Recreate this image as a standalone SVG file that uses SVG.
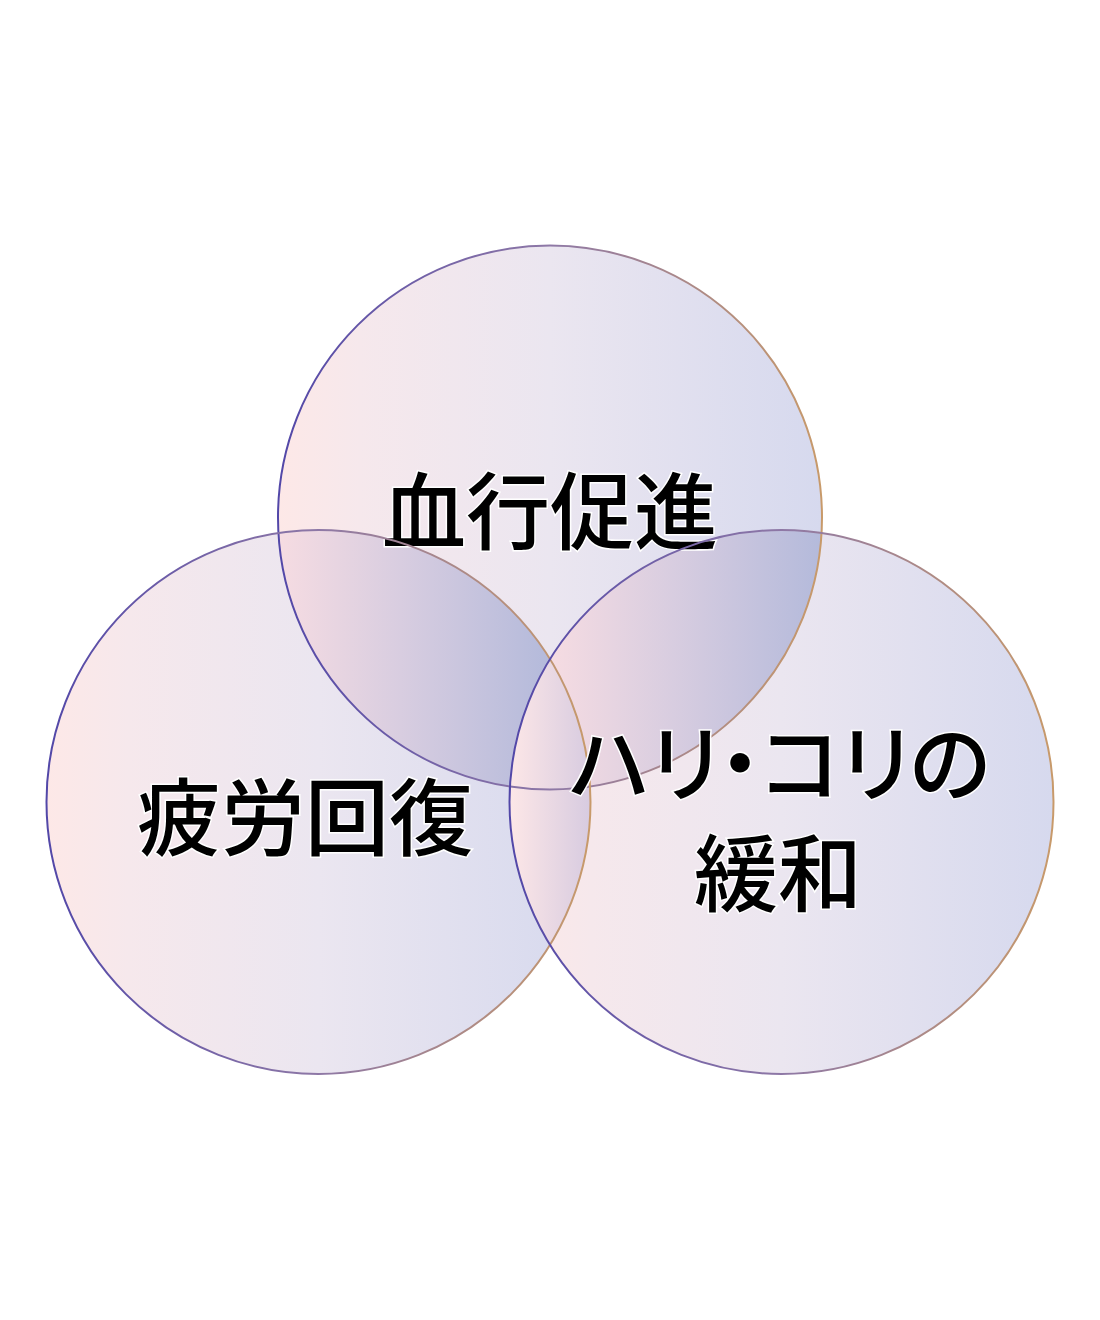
<svg xmlns="http://www.w3.org/2000/svg" width="1100" height="1320" viewBox="0 0 1100 1320">
  <defs>
    <linearGradient id="fillG" x1="0" y1="0" x2="1" y2="0">
      <stop offset="0" stop-color="#fde8e7"/>
      <stop offset="0.15" stop-color="#f6e8ec"/>
      <stop offset="0.5" stop-color="#ebe6f0"/>
      <stop offset="1" stop-color="#d6d9ee"/>
    </linearGradient>
    <linearGradient id="lensG" x1="0" y1="0" x2="1" y2="0">
      <stop offset="0" stop-color="#f6dce2"/>
      <stop offset="0.45" stop-color="#d8cde0"/>
      <stop offset="1" stop-color="#b4badb"/>
    </linearGradient>
    <linearGradient id="midG" x1="0" y1="0" x2="1" y2="0">
      <stop offset="0" stop-color="#fde7e7"/>
      <stop offset="1" stop-color="#d7cbe0"/>
    </linearGradient>
    <linearGradient id="strokeG" x1="0" y1="0" x2="1" y2="0">
      <stop offset="0" stop-color="#5247a8"/>
      <stop offset="0.5" stop-color="#8e78a6"/>
      <stop offset="1" stop-color="#c89a6a"/>
    </linearGradient>
  </defs>
  <style>
    .fill { fill: url(#fillG); stroke: none; }
    .ring { fill: none; stroke: url(#strokeG); stroke-width: 2; }
    .lbl { font-family: "Noto Sans CJK JP", "Noto Sans", sans-serif; font-weight: 500; font-size: 84px; fill: #000; stroke: #fff; stroke-width: 3; paint-order: stroke; text-anchor: middle; }
    .palt { font-feature-settings: "palt" 1; }
  </style>
  <rect x="0" y="0" width="1100" height="1320" fill="#ffffff"/>

  <g id="fills">
    <circle class="fill" cx="318.5" cy="802" r="272"/>
    <circle class="fill" cx="781.5" cy="802" r="272"/>
    <circle class="fill" cx="550" cy="517.5" r="272"/>
    <path id="lens-top-left" fill="url(#lensG)" d="M 278.4 532.9 A 272 272 0 0 0 509.9 786.5 A 272 272 0 0 1 550 659.2 A 272 272 0 0 0 278.4 532.9 Z"/>
    <path id="lens-top-right" fill="url(#lensG)" d="M 550 659.2 A 272 272 0 0 1 821.6 532.9 A 272 272 0 0 1 590.1 786.5 A 272 272 0 0 0 550 659.2 Z"/>
    <path id="lens-bottom" fill="url(#midG)" d="M 550 659.2 A 272 272 0 0 1 550 944.8 A 272 272 0 0 1 550 659.2 Z"/>
  </g>

  <g id="node-top">
    <circle class="ring" cx="550" cy="517.5" r="272"/>
    <text class="lbl" x="550" y="543">血行促進</text>
  </g>
  <g id="node-left">
    <circle class="ring" cx="318.5" cy="802" r="272"/>
    <text class="lbl" x="305" y="849">疲労回復</text>
  </g>
  <g id="node-right">
    <circle class="ring" cx="781.5" cy="802" r="272"/>
    <text class="lbl palt" x="780" y="795">ハリ・コリの</text>
    <text class="lbl" x="778" y="905">緩和</text>
  </g>
  <g id="connectors"></g>
</svg>
